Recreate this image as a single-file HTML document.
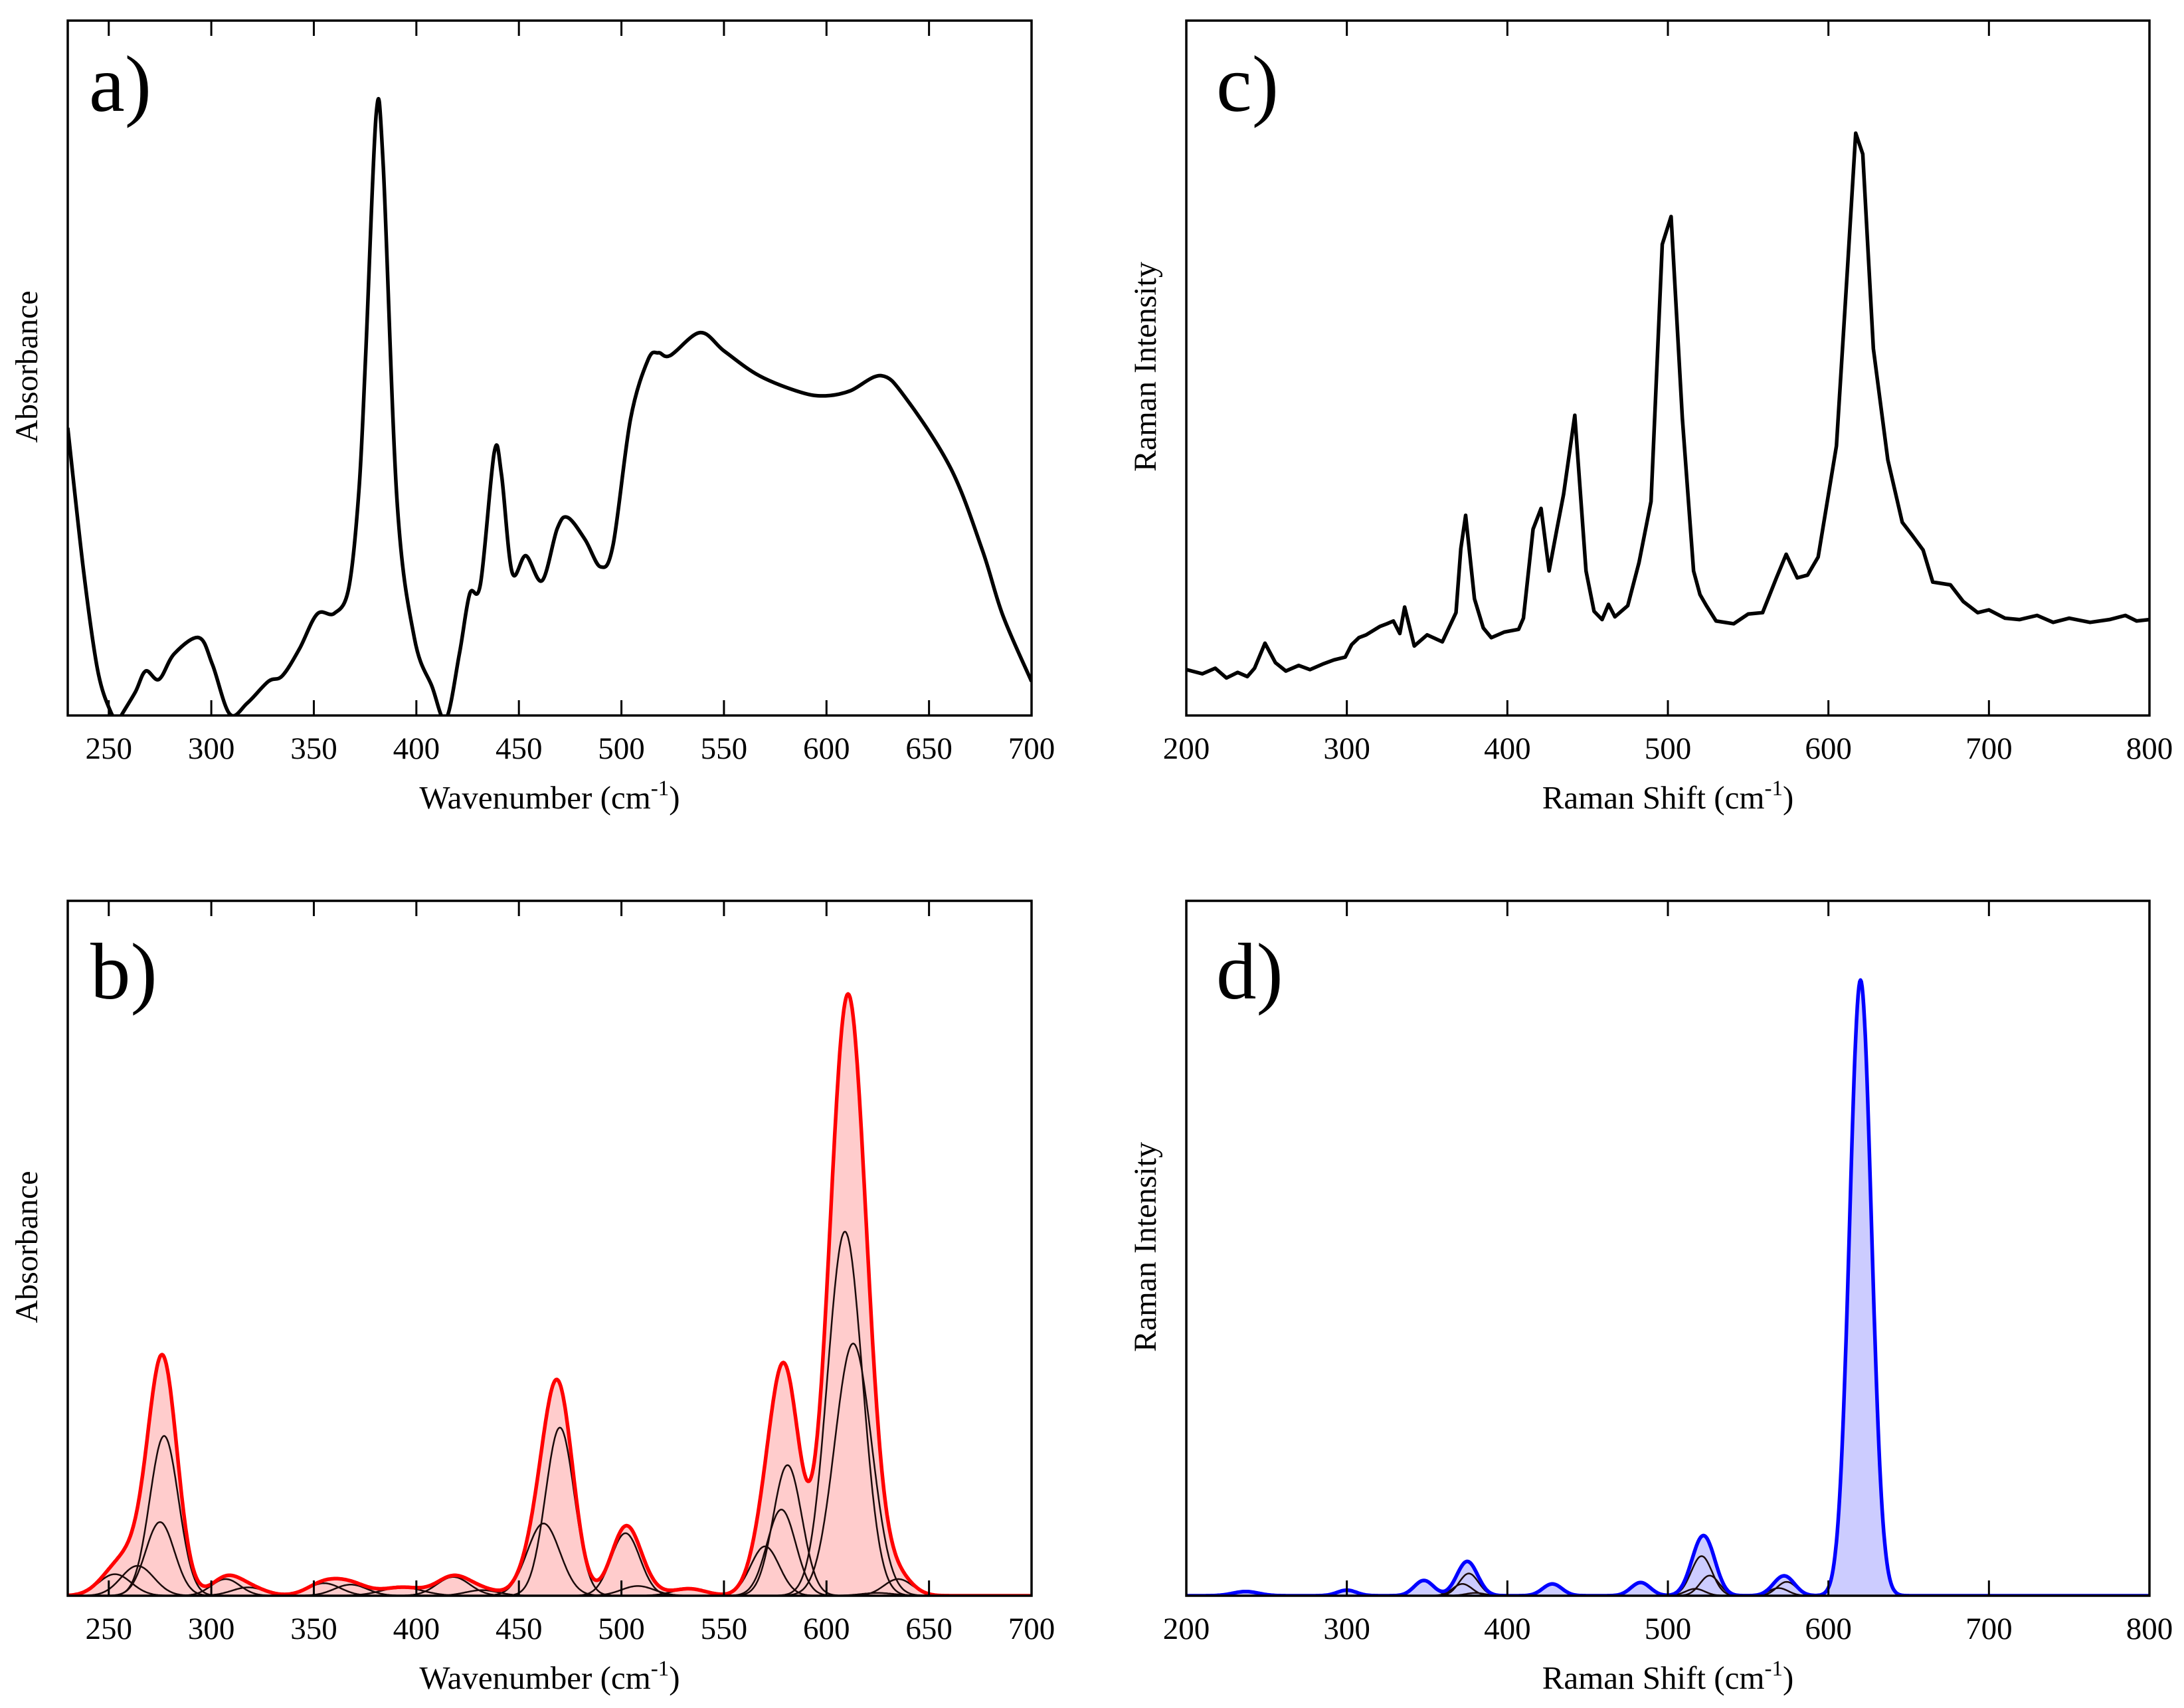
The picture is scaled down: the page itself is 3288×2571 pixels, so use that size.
<!DOCTYPE html>
<html><head><meta charset="utf-8">
<style>
html,body{margin:0;padding:0;background:#fff;}
svg{display:block;font-family:"Liberation Serif",serif;}
</style></head>
<body>
<svg id="fig" width="3288" height="2571" viewBox="0 0 3288 2571" xmlns="http://www.w3.org/2000/svg">
<defs>
<clipPath id="clipA"><rect x="102" y="31" width="1451" height="1046"/></clipPath>
<clipPath id="clipB"><rect x="102" y="1356" width="1451" height="1046"/></clipPath>
<clipPath id="clipC"><rect x="1786" y="31" width="1450" height="1046"/></clipPath>
<clipPath id="clipD"><rect x="1786" y="1356" width="1450" height="1046"/></clipPath>
</defs>
</svg>
<script>
// ---- Panel a: IR absorbance (wavenumber, relative absorbance %)
const irX=[230,237.8,244.6,251,255,256.5,263,268,274.5,282,294,300.6,309,317.6,327.8,334.6,343,351.6,360,367,372,375.3,380.4,383.8,390.6,399,407.6,414.4,421,426,431.3,438,441.5,446.7,453.4,461.3,468.7,473.8,482.3,489.8,495.9,504.4,513,518,523.8,538.4,550.3,567.2,587.6,599.5,611.4,626.7,638.6,660.7,676,686,700];
const irY=[41.4,20.6,6.5,0.5,-0.8,0.2,3.4,6.4,5.2,8.9,11.2,7.3,0.2,1.8,4.9,5.7,9.6,14.6,14.7,18.3,32.4,52,86.5,79.4,30.8,11.2,4.2,-0.5,8.9,17.5,19,37.9,34.7,20.6,23,19.4,26.9,28.5,25.3,21.4,24.5,42.6,51.2,52.2,51.8,55.1,52.4,48.9,46.5,46,46.7,48.9,45.7,35.5,23.8,14.4,4.9];
const irTicks=[250,300,350,400,450,500,550,600,650,700];
// ---- Panel c: Raman spectrum
const ramX=[200,210,218,225,232,238,242.5,249,255.5,262,270,277,285,292,299,303,307.5,312,320.5,325,329,333,336,342,350,359.5,368,371,374,379.5,385,390,398,407,410,416,421,426,431,435,442,449,454,459,463,467,475,482,489.5,496.5,502,509,516,520,524,530,541,550,559,567.6,573.7,580.6,587,593.6,605,612,617,621.4,628,637,646,652,659,665,676,684,693,700,710,719,730,740,750,763,775,785,792,800];
const ramY=[6.6,6.0,6.8,5.4,6.2,5.6,6.8,10.4,7.6,6.4,7.2,6.6,7.4,8.0,8.4,10.2,11.2,11.6,12.8,13.2,13.6,11.8,15.6,10.0,11.6,10.6,14.8,24.0,28.8,16.8,12.6,11.2,12.0,12.4,14.0,26.8,29.8,20.8,27.0,31.8,43.2,20.8,15.0,13.8,16.0,14.2,15.8,22.0,30.8,67.8,71.8,42.8,20.8,17.4,15.8,13.6,13.2,14.6,14.8,19.8,23.2,19.8,20.2,22.8,38.8,64.8,83.8,80.8,52.8,36.8,27.8,26.0,23.8,19.2,18.8,16.4,14.8,15.2,14.0,13.8,14.4,13.4,14.0,13.4,13.8,14.4,13.6,13.8];
const ramTicks=[200,300,400,500,600,700,800];
// ---- Panel b: IR fitted gaussian components
const bCenters=[253,264,275,277,307,318,355,368,393,418,432,462,470,502,508,533,570,578,581,609,613,625,635];
const bHeights=[3.1,4.3,10.6,23,2.4,1.2,1.8,1.6,1.2,2.7,0.8,10.4,24.2,9,1.4,1,7.1,12.4,18.8,52.4,36.3,0.4,2.4];
const bSigmas=[8,8,7,7,7,8,8,8,10,8,8,8,7,7,8,8,7,7,7,8.5,9,8,7];
// ---- Panel d: Raman fitted gaussian components
const dCenters=[237,300,348,372,376,380,428,483,517,521,526,569,574,620];
const dHeights=[0.6,0.8,2.2,1.7,3.2,0.4,1.7,1.9,1.0,5.7,2.9,1.1,2.0,88.6];
const dSigmas=[8,6,6,6,6,6,6,6,6,6.5,6,6,6,6.8];

const NS="http://www.w3.org/2000/svg";
const svg=document.getElementById('fig');
function mk(tag,attrs,parent){const e=document.createElementNS(NS,tag);for(const k in attrs)e.setAttribute(k,attrs[k]);(parent||svg).appendChild(e);return e;}
function axis(x0,x1,y0,y1,dmin,dmax){return {sx:v=>x0+(v-dmin)/(dmax-dmin)*(x1-x0),sy:v=>y1-v/100*(y1-y0)};}

function frame(name,x0,x1,y0,y1,ticks,ax,labelBaseline,title,titleBaseline,ylabel,ylabelX,letter,letterX,letterBase){
  const g=mk('g',{});
  
  
  const box=mk('rect',{x:x0,y:y0,width:x1-x0,height:y1-y0,fill:'none',stroke:'#000','stroke-width':3.5},g);
  
  
  ticks.forEach(t=>{
    const x=ax.sx(t);
    const tb=mk('line',{x1:x,x2:x,y1:y1,y2:y1-23,stroke:'#000','stroke-width':3},g);
    
    
    const tt=mk('line',{x1:x,x2:x,y1:y0,y2:y0+23,stroke:'#000','stroke-width':3},g);
    
    
    const lb=mk('text',{x:x,y:labelBaseline,'text-anchor':'middle','font-size':47},g);
    lb.textContent=t;
    
    
  });
  const xt=mk('text',{x:(x0+x1)/2,y:titleBaseline,'text-anchor':'middle','font-size':49},g);
  xt.innerHTML=title+' (cm<tspan dy="-20" font-size="33">-1</tspan><tspan dy="20">)</tspan>';
  
  
  const cy=(y0+y1)/2-2;
  const yt=mk('text',{x:ylabelX,y:cy,'text-anchor':'middle','font-size':48,transform:`rotate(-90 ${ylabelX} ${cy})`,dy:16},g);
  yt.textContent=ylabel;
  
  
  const pl=mk('text',{x:letterX,y:letterBase,'font-size':121},g);
  pl.textContent=letter;
  
  
}

function smoothPath(pts){
  let d=`M${pts[0][0]},${pts[0][1]}`;
  for(let i=0;i<pts.length-1;i++){
    const p0=pts[i-1]||pts[i],p1=pts[i],p2=pts[i+1],p3=pts[i+2]||p2;
    const c1=[p1[0]+(p2[0]-p0[0])/6,p1[1]+(p2[1]-p0[1])/6];
    const c2=[p2[0]-(p3[0]-p1[0])/6,p2[1]-(p3[1]-p1[1])/6];
    d+=` C${c1[0]},${c1[1]} ${c2[0]},${c2[1]} ${p2[0]},${p2[1]}`;
  }
  return d;
}
const gauss=(x,c,h,s)=>h*Math.exp(-((x-c)*(x-c))/(2*s*s));

// ---------- Panel a
const A=axis(102,1553,31,1077,230,700);
frame('panel-a',102,1553,31,1077,irTicks,A,1142,'Wavenumber','1217','Absorbance',40,'a)',134,167);
const pa=mk('path',{d:smoothPath(irX.map((x,i)=>[A.sx(x),A.sy(irY[i])])),fill:'none',stroke:'#000','stroke-width':5.5,'stroke-linejoin':'round','clip-path':'url(#clipA)'});



// ---------- Panel c
const C=axis(1786,3236,31,1077,200,800);
frame('panel-c',1786,3236,31,1077,ramTicks,C,1142,'Raman Shift','1217','Raman Intensity',1724,'c)',1831,167);
const pc=mk('polyline',{points:ramX.map((x,i)=>C.sx(x)+','+C.sy(ramY[i])).join(' '),fill:'none',stroke:'#000','stroke-width':5.5,'stroke-linejoin':'round','clip-path':'url(#clipC)'});



// ---------- fitted panels
function fitted(name,ax,xmin,xmax,centers,heights,sigmas,lineColor,fillColor,clip,y1){
  const xs=[];for(let x=xmin;x<=xmax;x+=0.5)xs.push(x);
  const total=xs.map(x=>centers.reduce((s,c,i)=>s+gauss(x,c,heights[i],sigmas[i]),0));
  const pts=xs.map((x,i)=>ax.sx(x).toFixed(1)+','+ax.sy(total[i]).toFixed(1));
  const f=mk('polygon',{points:ax.sx(xmin)+','+y1+' '+pts.join(' ')+' '+ax.sx(xmax)+','+y1,fill:fillColor,stroke:'none','clip-path':clip});
  
  
  centers.forEach((c,i)=>{
    const cp=xs.filter(x=>Math.abs(x-c)<5*sigmas[i]).map(x=>ax.sx(x).toFixed(1)+','+ax.sy(gauss(x,c,heights[i],sigmas[i])).toFixed(1));
    const l=mk('polyline',{points:cp.join(' '),fill:'none',stroke:'#1a0a0a','stroke-width':2.5,'clip-path':clip});
    
    
  });
  const t=mk('polyline',{points:pts.join(' '),fill:'none',stroke:lineColor,'stroke-width':5.5,'stroke-linejoin':'round','clip-path':clip});
  
  
}
const B=axis(102,1553,1356,2402,230,700);
fitted('ir-fit',B,230,700,bCenters,bHeights,bSigmas,'#ff0000','#ffcccc','url(#clipB)',2402);
frame('panel-b',102,1553,1356,2402,irTicks,B,2467,'Wavenumber','2542','Absorbance',40,'b)',136,1503);

const D=axis(1786,3236,1356,2402,200,800);
fitted('raman-fit',D,200,800,dCenters,dHeights,dSigmas,'#0000ff','#ccccff','url(#clipD)',2402);
frame('panel-d',1786,3236,1356,2402,ramTicks,D,2467,'Raman Shift','2542','Raman Intensity',1724,'d)',1831,1503);
</script>
</body></html>
